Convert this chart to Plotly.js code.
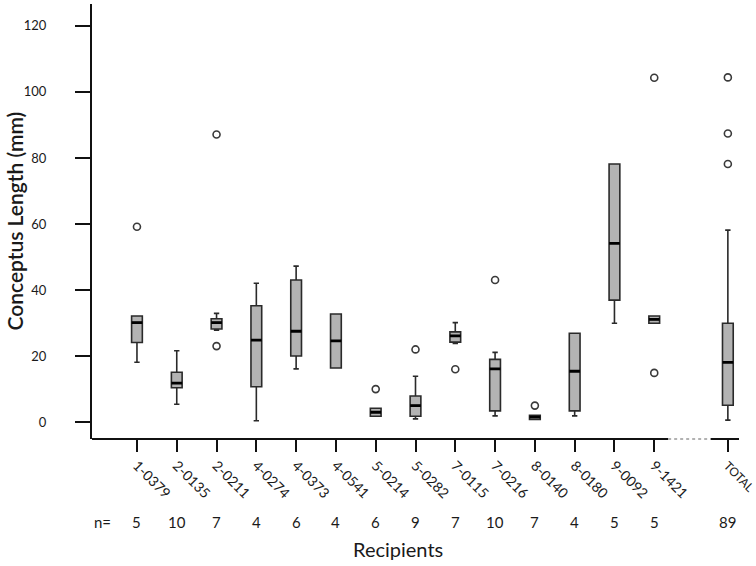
<!DOCTYPE html>
<html>
<head>
<meta charset="utf-8">
<script src="https://cdn.plot.ly/plotly-3.0.1.min.js"></script>
<style>
	body { margin: 0; background: #fff; }
	#plot { width: 756px; height: 566px; }
</style>
</head>
<body>
<div id="plot"></div>
<script>
// recipients + pooled total, positions on a numeric axis (gap before TOTAL)
const recipients = ["1-0379", "2-0135", "2-0211", "4-0274", "4-0373", "4-0541", "5-0214",
	"5-0282", "7-0115", "7-0216", "8-0140", "8-0180", "9-0092", "9-1421", "TOTAL"];
const positions = [0, 1, 2, 3, 4, 5, 6, 7, 8, 9, 10, 11, 12, 13, 14.85];
const counts = [5, 10, 7, 4, 6, 4, 6, 9, 7, 10, 7, 4, 5, 5, 89];

// box stats (mm)
const lowerWhisker = [18.2, 5.5, 27.9, 0.5, 16.2, 16.5, 1.9, 1.1, 23.9, 2.0, 0.9, 2.0, 30.0, 30.0, 0.7];
const q1 = [24.2, 10.5, 28.3, 10.8, 20.1, 16.5, 1.9, 1.9, 24.3, 3.5, 0.9, 3.5, 37.0, 30.0, 5.2];
const median = [30.2, 11.9, 30.2, 24.9, 27.6, 24.7, 3.1, 5.1, 26.2, 16.2, 1.6, 15.5, 54.2, 31.2, 18.2];
const q3 = [32.2, 15.2, 31.4, 35.3, 43.1, 32.8, 4.3, 8.0, 27.4, 19.1, 2.2, 27.0, 78.2, 32.2, 30.0];
const upperWhisker = [32.2, 21.7, 33.0, 42.1, 47.3, 32.8, 4.3, 14.0, 30.2, 21.2, 2.2, 27.0, 78.2, 32.2, 58.2];

// outliers: index into recipients, value
const outlierIdx = [0, 2, 2, 6, 7, 8, 9, 10, 13, 13, 14, 14, 14];
const outlierVal = [59.2, 87.1, 23.1, 10.1, 22.1, 16.1, 43.1, 5.1, 104.3, 15.0, 104.4, 87.4, 78.2];

const yTicks = [0, 20, 40, 60, 80, 100, 120];

const fontFam = "Lato, 'Noto Sans', sans-serif";
const ink = "#1a1a1a";
const xRange = [-1.13, 15.13];
const axisBreak = [13.35, 14.42];

// TOTAL label is set a bit smaller in the original
const tickText = recipients.map(r => r === "TOTAL" ? '<span style="font-size:12px">TOTAL</span>' : r);

let traces = [
	{
		type: "box",
		x: positions,
		q1: q1,
		median: median,
		q3: q3,
		lowerfence: lowerWhisker,
		upperfence: upperWhisker,
		width: 0.27,
		whiskerwidth: 0.5,
		boxpoints: false,
		fillcolor: "#b3b3b3",
		line: { color: "#2a2a2a", width: 1.6 },
		hoverinfo: "skip",
		showlegend: false
	},
	// thick black median bars drawn on top
	{
		type: "box",
		x: positions,
		q1: median,
		median: median,
		q3: median,
		lowerfence: median,
		upperfence: median,
		width: 0.27,
		whiskerwidth: 0,
		boxpoints: false,
		fillcolor: "rgba(0,0,0,0)",
		line: { color: "#000", width: 2.8 },
		hoverinfo: "skip",
		showlegend: false
	},
	{
		type: "scatter",
		mode: "markers",
		x: outlierIdx.map(i => positions[i]),
		y: outlierVal,
		marker: {
			symbol: "circle-open",
			size: 7,
			color: "#3a3a3a",
			line: { width: 1.6, color: "#3a3a3a" }
		},
		hoverinfo: "skip",
		showlegend: false
	}
];

let annotations = counts.map((n, i) => ({
	text: String(n),
	x: positions[i],
	xref: "x",
	y: 0,
	yref: "paper",
	yanchor: "middle",
	yshift: -83,
	showarrow: false,
	font: { family: fontFam, size: 15, color: ink }
}));
annotations.push({
	text: "n=",
	x: xRange[0],
	xref: "x",
	xanchor: "left",
	y: 0,
	yref: "paper",
	yanchor: "middle",
	yshift: -83,
	showarrow: false,
	font: { family: fontFam, size: 15, color: ink }
});
annotations.push({
	text: "Recipients",
	x: 0.4725,
	xref: "paper",
	xanchor: "center",
	y: 0,
	yref: "paper",
	yanchor: "middle",
	yshift: -110,
	showarrow: false,
	font: { family: fontFam, size: 20, color: ink }
});
annotations.push({
	text: "Conceptus Length (mm)",
	x: 0,
	xref: "paper",
	xanchor: "center",
	xshift: -78,
	y: 0.5,
	yref: "paper",
	yanchor: "middle",
	textangle: -90,
	showarrow: false,
	font: { family: fontFam, size: 21, color: ink, weight: 600 }
});

// bottom axis drawn by hand so it can carry the dotted break before TOTAL
let shapes = [
	{ type: "line", xref: "x", yref: "paper", x0: xRange[0], x1: axisBreak[0], y0: 0, y1: 0,
		line: { color: "#111", width: 2 } },
	{ type: "line", xref: "x", yref: "paper", x0: axisBreak[0], x1: axisBreak[1], y0: 0, y1: 0,
		line: { color: "#999", width: 1.5, dash: "dot" } },
	{ type: "line", xref: "x", yref: "paper", x0: axisBreak[1], x1: xRange[1], y0: 0, y1: 0,
		line: { color: "#111", width: 2 } }
];

let layout = {
	width: 756,
	height: 566,
	margin: { l: 92, r: 17, t: 4, b: 127 },
	paper_bgcolor: "#fff",
	plot_bgcolor: "#fff",
	font: { family: fontFam, color: ink, size: 13 },
	showlegend: false,
	xaxis: {
		range: xRange,
		tickvals: positions,
		ticktext: tickText,
		tickangle: 45,
		ticks: "outside",
		ticklen: 12,
		tickwidth: 2,
		tickcolor: "#111",
		showline: false,
		showgrid: false,
		zeroline: false,
		ticklabeloverflow: "allow",
		tickfont: { family: fontFam, size: 14, color: ink }
	},
	yaxis: {
		range: [-5, 126.6],
		tickvals: yTicks,
		ticks: "outside",
		ticklen: 15,
		tickwidth: 2,
		tickcolor: "#111",
		showline: true,
		linecolor: "#111",
		linewidth: 2,
		showgrid: false,
		zeroline: false,
		ticklabelstandoff: 26,
		tickfont: { family: fontFam, size: 13, color: ink }
	},
	annotations: annotations,
	shapes: shapes
};

Plotly.newPlot("plot", traces, layout, { displayModeBar: false, staticPlot: true });
</script>
</body>
</html>
